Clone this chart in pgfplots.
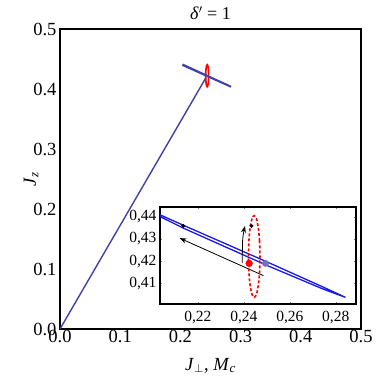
\documentclass[border=0pt]{standalone}
\usepackage{fontspec}
\setmainfont{Liberation Serif}
\usepackage{pgfplots}
\pgfplotsset{compat=1.18}
\usetikzlibrary{arrows.meta}
\definecolor{mainblue}{HTML}{4242A6}
\definecolor{inblue}{HTML}{1A1AF0}
\definecolor{dotblue}{HTML}{7272BC}

\begin{document}
\begin{tikzpicture}
\useasboundingbox (-60pt,-52pt) rectangle (321pt,329pt);
\begin{axis}[
    at={(0pt,0pt)}, anchor=south west,
    scale only axis, width=301pt, height=300pt,
    xmin=0, xmax=0.5, ymin=0, ymax=0.5,
    xtick={0,0.1,0.2,0.3,0.4,0.5},
    ytick={0,0.1,0.2,0.3,0.4,0.5},
    major tick length=0pt,
    axis line style={line width=1.3pt},
    tick label style={font=\fontsize{18.5}{21}\selectfont},
    xticklabel style={yshift=2pt},
    label style={font=\fontsize{18.5}{21}\selectfont},
    xlabel style={yshift=-8pt},
    ylabel style={yshift=-12pt},
    title style={font=\fontsize{18}{21}\selectfont},
    /pgf/number format/fixed,
    /pgf/number format/fixed zerofill,
    /pgf/number format/precision=1,
    /pgf/number format/assume math mode=true,
    xlabel={\textit{J}\textsubscript{$\perp$}, \textit{M}\textsubscript{\textit{c}}},
    ylabel={\textit{J}\textsubscript{\textit{z}}},
    title={\textit{δ}$'$ = 1},
]
\addplot[mainblue, line width=1.4pt] coordinates {(0,0) (0.2425,0.419)};
\addplot[red, line width=1.6pt, smooth cycle] coordinates {
 (0.2470,0.4221) (0.24681,0.42914) (0.24627,0.43511) (0.24546,0.4391)
 (0.2445,0.4405) (0.24354,0.4391) (0.24273,0.43511) (0.24219,0.42914)
 (0.2420,0.4221) (0.24219,0.41506) (0.24273,0.40909) (0.24354,0.4051)
 (0.2445,0.4037) (0.24546,0.4051) (0.24627,0.40909) (0.24681,0.41506)};
\addplot[mainblue, line width=2pt] coordinates {(0.2035,0.4409) (0.2842,0.4037) (0.2035,0.4400)};
\end{axis}

\begin{axis}[
    at={(100pt,25pt)}, anchor=south west,
    scale only axis, width=196pt, height=97pt,
    xmin=0.2035, xmax=0.2888, ymin=0.4007, ymax=0.4444,
    xtick={0.22,0.24,0.26,0.28},
    ytick={0.41,0.42,0.43,0.44},
    major tick length=2pt, tick align=inside,
    axis background/.style={fill=white},
    axis line style={line width=1.3pt},
    tick label style={font=\fontsize{15.5}{18}\selectfont},
    xticklabel style={yshift=-4pt},
    /pgf/number format/fixed,
    /pgf/number format/fixed zerofill,
    /pgf/number format/precision=2,
    /pgf/number format/use comma,
    /pgf/number format/assume math mode=true,
]
\addplot[inblue, line width=1.3pt] coordinates {
 (0.2035,0.4409) (0.2136,0.4362) (0.25,0.4197) (0.275,0.4081) (0.2842,0.4037)
 (0.275,0.4072) (0.25,0.4181) (0.2136,0.4349) (0.2035,0.4401)};
\addplot[black, line width=0.8pt, -{Stealth[length=7pt,width=5pt]}] coordinates {(0.2485,0.4135) (0.2120,0.4304)};
\addplot[black, line width=0.8pt, smooth, -{Stealth[length=7pt,width=5pt]}] coordinates {(0.2393,0.4191) (0.2395,0.4300) (0.2405,0.4359)};
\addplot[red, line width=1.6pt, dash pattern=on 3pt off 2pt, smooth cycle] coordinates {
 (0.2470,0.4221) (0.24681,0.42914) (0.24627,0.43511) (0.24546,0.4391)
 (0.2445,0.4405) (0.24354,0.4391) (0.24273,0.43511) (0.24219,0.42914)
 (0.2420,0.4221) (0.24219,0.41506) (0.24273,0.40909) (0.24354,0.4051)
 (0.2445,0.4037) (0.24546,0.4051) (0.24627,0.40909) (0.24681,0.41506)};
\addplot[only marks, mark=*, mark size=1.8pt, black] coordinates {(0.2136,0.4359) (0.2433,0.4359)};
\addplot[only marks, mark=*, mark size=3.4pt, red, mark options={draw=none}] coordinates {(0.2423,0.4190)};
\addplot[only marks, mark=*, mark size=3.2pt, dotblue, mark options={draw=none}] coordinates {(0.2494,0.4190)};
\end{axis}
\end{tikzpicture}
\end{document}
